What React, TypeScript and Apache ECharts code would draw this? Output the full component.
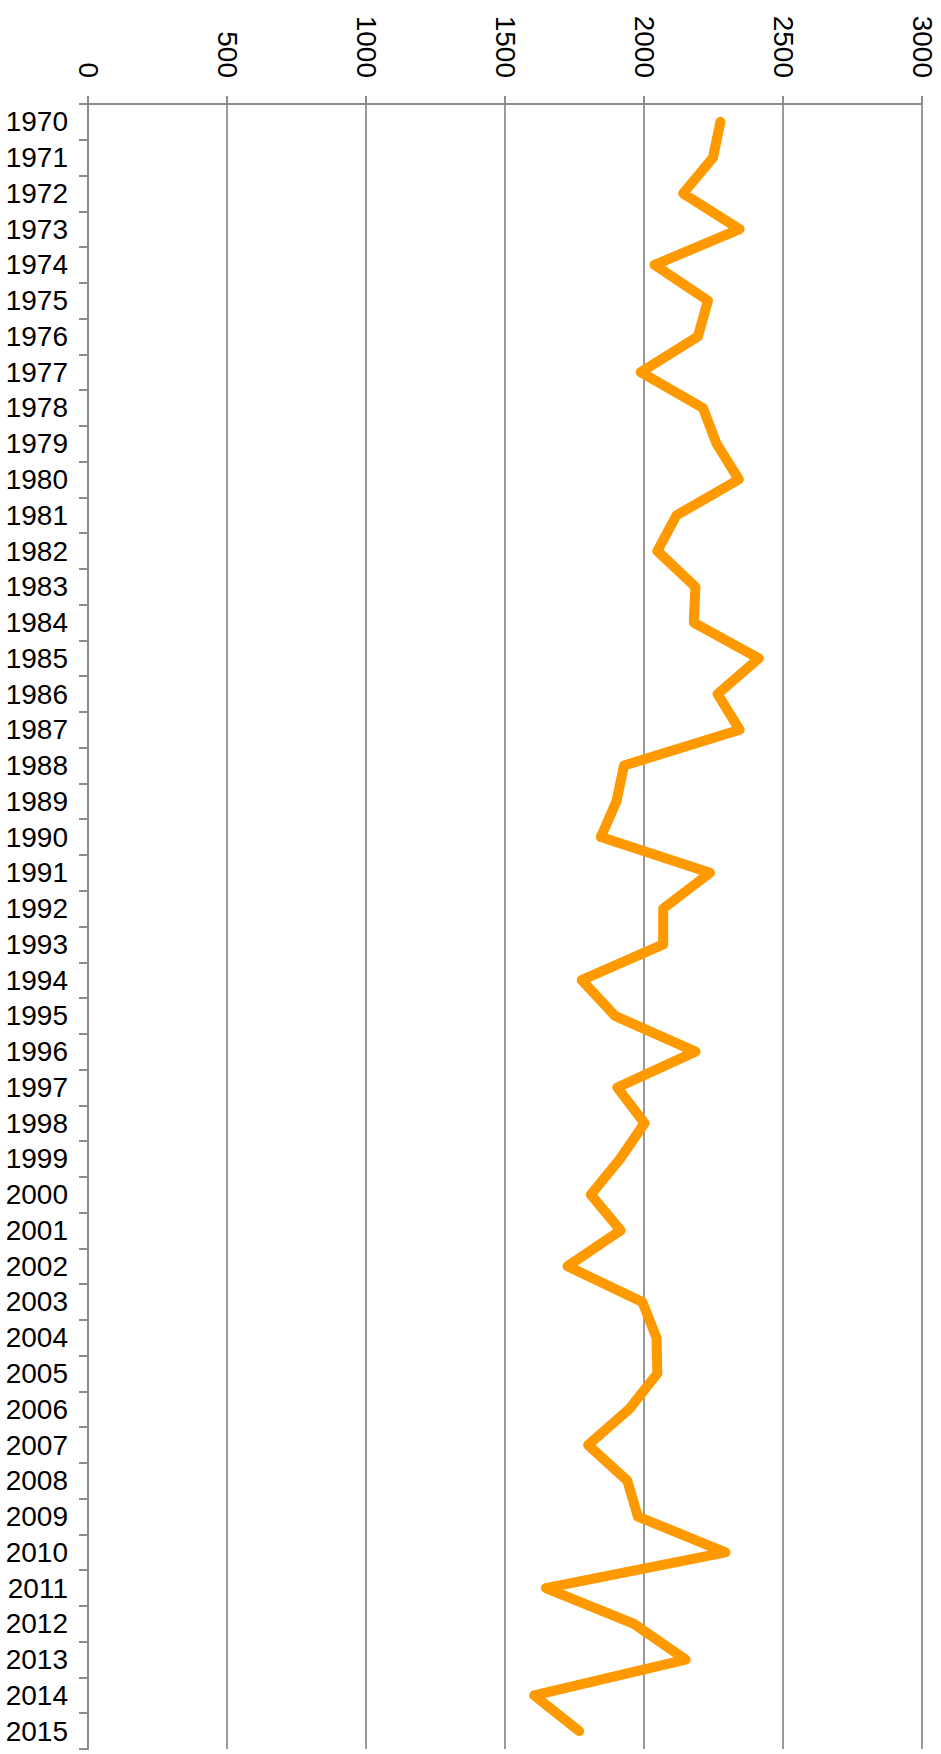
import React, { useEffect, useRef } from "react";
import * as echarts from "echarts";

const years: string[] = [
  "1970", "1971", "1972", "1973", "1974", "1975", "1976", "1977", "1978", "1979",
  "1980", "1981", "1982", "1983", "1984", "1985", "1986", "1987", "1988", "1989",
  "1990", "1991", "1992", "1993", "1994", "1995", "1996", "1997", "1998", "1999",
  "2000", "2001", "2002", "2003", "2004", "2005", "2006", "2007", "2008", "2009",
  "2010", "2011", "2012", "2013", "2014", "2015",
];

const values: number[] = [
  2275, 2248, 2141, 2344, 2038, 2230, 2194, 1988, 2212, 2261,
  2341, 2117, 2048, 2185, 2179, 2413, 2265, 2344, 1928, 1901,
  1845, 2237, 2069, 2069, 1776, 1896, 2185, 1904, 2002, 1914,
  1809, 1916, 1725, 1994, 2045, 2048, 1946, 1799, 1940, 1978,
  2293, 1647, 1964, 2150, 1605, 1767,
];

const valueMin = 0;
const valueMax = 3000;
const valueStep = 500;

export default function App() {
  const ref = useRef<HTMLDivElement>(null);

  useEffect(() => {
    if (!ref.current) return;
    const chart = echarts.init(ref.current, null, { renderer: "svg" });
    const font = "'Liberation Sans', Arial, Helvetica, sans-serif";
    chart.setOption({
      animation: false,
      backgroundColor: "#ffffff",
      grid: { left: 88, right: 19, top: 104, bottom: 5, containLabel: false },
      xAxis: {
        type: "value",
        position: "top",
        min: valueMin,
        max: valueMax,
        interval: valueStep,
        axisLine: { show: true, lineStyle: { color: "#8c8c8c", width: 2 } },
        axisTick: { show: true, length: 8, lineStyle: { color: "#8c8c8c", width: 2 } },
        splitLine: { show: true, lineStyle: { color: "#999999", width: 2 } },
        axisLabel: {
          rotate: 90,
          margin: 26,
          color: "#000000",
          fontSize: 28,
          fontFamily: font,
          formatter: (v: number) => String(v),
        },
      },
      yAxis: {
        type: "category",
        data: years,
        inverse: true,
        boundaryGap: true,
        axisLine: { show: true, lineStyle: { color: "#8c8c8c", width: 2 } },
        axisTick: { show: true, interval: 0, length: 9, lineStyle: { color: "#8c8c8c", width: 2 } },
        splitLine: { show: false },
        axisLabel: {
          interval: 0,
          margin: 20,
          color: "#000000",
          fontSize: 28,
          fontFamily: font,
        },
      },
      series: [
        {
          type: "line",
          data: values,
          showSymbol: false,
          symbol: "none",
          lineStyle: { color: "#ff9900", width: 10, cap: "round", join: "round" },
          itemStyle: { color: "#ff9900" },
        },
      ],
    });
    return () => chart.dispose();
  }, []);

  return (
    <div
      ref={ref}
      style={{ position: "absolute", left: 0, top: 0, width: 941, height: 1754 }}
    />
  );
}
